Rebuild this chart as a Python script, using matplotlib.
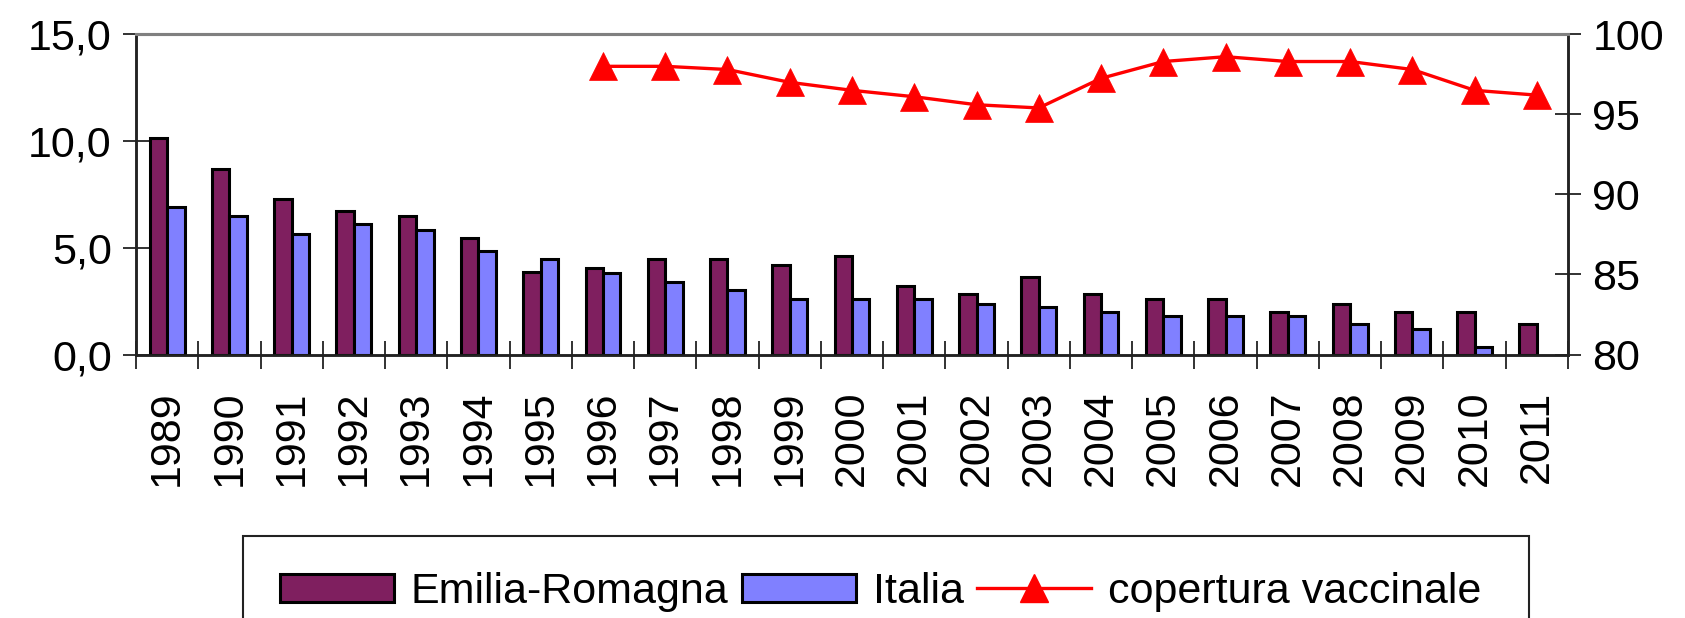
import matplotlib
matplotlib.use("Agg")
import matplotlib.pyplot as plt
import numpy as np
from matplotlib.ticker import FixedLocator, FuncFormatter, NullFormatter
from matplotlib.patches import Rectangle, Patch
from matplotlib.lines import Line2D

# Data
years = [str(y) for y in range(1989, 2012)]
emilia_romagna = [10.15, 8.7, 7.3, 6.7, 6.5, 5.46, 3.86, 4.05, 4.46, 4.46, 4.19, 4.62,
                  3.2, 2.82, 3.63, 2.82, 2.58, 2.58, 2.0, 2.38, 2.0, 2.0, 1.41]
italia = [6.9, 6.5, 5.66, 6.1, 5.85, 4.85, 4.47, 3.83, 3.4, 3.0, 2.58, 2.58,
          2.58, 2.38, 2.22, 2.0, 1.8, 1.8, 1.8, 1.41, 1.2, 0.34, None]
copertura_years = [str(y) for y in range(1996, 2012)]
copertura = [98.0, 98.0, 97.8, 97.0, 96.5, 96.1, 95.6, 95.4, 97.25, 98.3, 98.6,
             98.3, 98.3, 97.8, 96.5, 96.2]

plt.rcParams['font.family'] = ['Liberation Sans', 'DejaVu Sans']
FS = 31

W, H = 1685, 618
fig = plt.figure(figsize=(W / 100, H / 100), dpi=100)
ax = fig.add_axes([136 / W, 1 - 354.5 / H, (1568 - 136) / W, (354.5 - 34.3) / H])
ax2 = ax.twinx()

x = np.arange(len(years))
bw = 0.28
er_color = '#7F1F5F'
it_color = '#8080FF'
edge_lw = 2.2
ax.bar(x - 0.14, emilia_romagna, width=bw, color=er_color, edgecolor='black',
       linewidth=edge_lw, zorder=3)
it_vals = [np.nan if v is None else v for v in italia]
ax.bar(x + 0.14, it_vals, width=bw, color=it_color, edgecolor='black',
       linewidth=edge_lw, zorder=3)

cx = [years.index(y) for y in copertura_years]
ax2.plot(cx, copertura, color='#FF0000', linewidth=2.4, marker='^',
         markersize=20, markeredgewidth=0.5, zorder=4)

# Axes limits and ticks
ax.set_xlim(-0.5, len(years) - 0.5)
ax.set_ylim(0, 15)
ax2.set_ylim(80, 100)

ax.yaxis.set_major_locator(FixedLocator([0, 5, 10, 15]))
ax.yaxis.set_major_formatter(FuncFormatter(lambda v, p: f"{v:.1f}".replace('.', ',')))
ax2.yaxis.set_major_locator(FixedLocator([80, 85, 90, 95, 100]))
ax2.yaxis.set_major_formatter(FuncFormatter(lambda v, p: f"{v:.0f}"))

# category boundaries as crossing ticks, year labels at centres
ax.xaxis.set_major_locator(FixedLocator(np.arange(-0.5, len(years), 1.0)))
ax.xaxis.set_major_formatter(NullFormatter())
ax.set_xticks(x, minor=True)
ax.set_xticklabels(years, minor=True, rotation=90, fontsize=FS)
ax.tick_params(axis='x', which='major', direction='inout', length=20, width=1.3, color='#222222')
ax.tick_params(axis='x', which='minor', length=0, pad=26)

ax.tick_params(axis='y', direction='inout', length=19, width=1.3, labelsize=FS,
               pad=8, color='#222222')
ax2.tick_params(axis='y', direction='inout', length=19, width=1.3, labelsize=FS,
                pad=8, color='#222222')

for a in (ax, ax2):
    a.spines['top'].set_color('#808080')
    a.spines['top'].set_linewidth(2.2)
    for side in ('left', 'right', 'bottom'):
        a.spines[side].set_color('#222222')
        a.spines[side].set_linewidth(1.8)

ax2.set_zorder(ax.get_zorder() + 1)
ax2.patch.set_visible(False)

# Legend
handles = [
    Patch(facecolor=er_color, edgecolor='black', linewidth=edge_lw, label='Emilia-Romagna'),
    Patch(facecolor=it_color, edgecolor='black', linewidth=edge_lw, label='Italia'),
    Line2D([0], [0], color='#FF0000', linewidth=2.4, marker='^', markersize=20,
           label='copertura vaccinale'),
]
fig.legend(handles=handles, loc='center left', bbox_to_anchor=(258 / W, 1 - 592 / H),
           ncol=3, frameon=False, fontsize=FS, borderpad=0, handlelength=2.65,
           handleheight=0.63, handletextpad=0.4, columnspacing=0.3)
fig.add_artist(Rectangle((243 / W, -0.1), (1529 - 243) / W, 0.1 + (1 - 536 / H),
                         transform=fig.transFigure, fill=False, edgecolor='#222222',
                         linewidth=1.5))

fig.savefig('out.png', dpi=100)
